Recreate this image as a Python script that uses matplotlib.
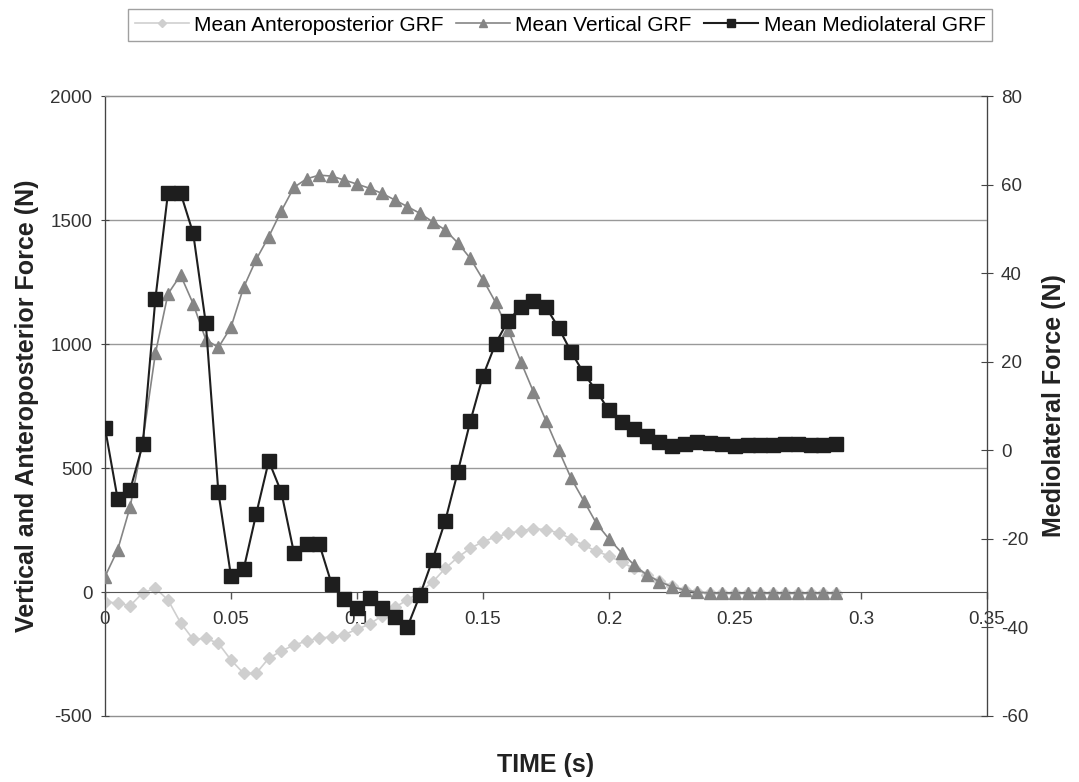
import matplotlib
matplotlib.use("Agg")
import matplotlib.pyplot as plt
from matplotlib.ticker import MultipleLocator

plt.rcParams['font.family'] = ['Liberation Sans', 'DejaVu Sans']
plt.rcParams['axes.unicode_minus'] = False

# Time (s), sampled every 5 ms
time_s = [0.000, 0.005, 0.010, 0.015, 0.020, 0.025, 0.030, 0.035, 0.040, 0.045,
          0.050, 0.055, 0.060, 0.065, 0.070, 0.075, 0.080, 0.085, 0.090, 0.095,
          0.100, 0.105, 0.110, 0.115, 0.120, 0.125, 0.130, 0.135, 0.140, 0.145,
          0.150, 0.155, 0.160, 0.165, 0.170, 0.175, 0.180, 0.185, 0.190, 0.195,
          0.200, 0.205, 0.210, 0.215, 0.220, 0.225, 0.230, 0.235, 0.240, 0.245,
          0.250, 0.255, 0.260, 0.265, 0.270, 0.275, 0.280, 0.285, 0.290]

# Mean anteroposterior GRF (N)
ap_grf = [-39, -45, -55, -3, 15, -32, -124, -191, -187,
          -207, -274, -328, -328, -267, -238, -214, -198, -185, -182,
          -172, -150, -130, -95, -62, -32, 0, 40, 95, 140,
          176, 203, 222, 236, 247, 255, 252, 238, 215, 188,
          165, 145, 120, 95, 70, 45, 25, 10, 0, -3,
          -3, -3, -3, -3, -3, -3, -3, -3, -3, -3]

# Mean vertical GRF (N)
vert_grf = [62, 169, 344, 610, 962, 1202, 1278, 1162, 1018,
            986, 1068, 1228, 1341, 1433, 1537, 1632, 1666, 1681, 1677,
            1661, 1645, 1628, 1607, 1581, 1554, 1527, 1493, 1460, 1408,
            1345, 1260, 1168, 1056, 929, 808, 691, 573, 458, 368,
            277, 214, 159, 109, 69, 42, 21, 8, -1, -4,
            -5, -5, -5, -5, -5, -5, -5, -5, -5, -5]

# Mean mediolateral GRF (N)
ml_grf = [5.1, -10.9, -8.9, 1.4, 34.2, 58.1, 58.1, 49.0, 28.7,
          -9.5, -28.4, -26.9, -14.4, -2.4, -9.5, -23.2, -21.1, -21.1, -30.3,
          -33.5, -35.5, -33.3, -35.5, -37.6, -39.9, -32.7, -24.7, -16.0, -4.9,
          6.6, 16.8, 24.1, 29.3, 32.3, 33.7, 32.3, 27.7, 22.2, 17.4,
          13.4, 9.0, 6.3, 4.9, 3.2, 1.9, 0.9, 1.5, 1.9, 1.7,
          1.4, 0.9, 1.1, 1.3, 1.3, 1.4, 1.5, 1.3, 1.3, 1.5]

fig = plt.figure(figsize=(10.79, 7.82), dpi=100)
ax = fig.add_axes([0.0973, 0.0844, 0.8174, 0.7928])
ax2 = ax.twinx()

# Plot area frame and gridlines
ax.patch.set_edgecolor('#909090')
ax.patch.set_linewidth(1.0)
for y in [500, 1000, 1500]:
    ax.axhline(y, color='#999999', linewidth=1.0, zorder=0)

l1, = ax.plot(time_s, ap_grf, color='#cfcfcf', linewidth=1.2, marker='D',
              markersize=6.5, label='Mean Anteroposterior GRF', zorder=2)
l2, = ax.plot(time_s, vert_grf, color='#858585', linewidth=1.2, marker='^',
              markersize=9, label='Mean Vertical GRF', zorder=3)
l3, = ax2.plot(time_s, ml_grf, color='#1e1e1e', linewidth=1.5, marker='s',
               markersize=9.5, label='Mean Mediolateral GRF', zorder=4)

ax.set_xlim(0, 0.35)
ax.set_ylim(-500, 2000)
ax2.set_ylim(-60, 80)
ax.xaxis.set_major_locator(MultipleLocator(0.05))
ax.yaxis.set_major_locator(MultipleLocator(500))
ax2.yaxis.set_major_locator(MultipleLocator(20))
ax.xaxis.set_major_formatter(lambda v, p: '0' if abs(v) < 1e-9 else '{:g}'.format(round(v, 2)))

# Excel-like axis at y = 0
ax.spines['bottom'].set_position(('data', 0))
ax.spines['bottom'].set_color('#555555')
ax.spines['top'].set_color('#909090')
ax.spines['left'].set_color('#444444')
for s in ['top', 'bottom', 'left', 'right']:
    ax2.spines[s].set_visible(False)
ax2.spines['right'].set_visible(True)
ax2.spines['right'].set_color('#444444')
ax.spines['right'].set_visible(False)

ax.tick_params(axis='x', direction='out', length=5, width=1, colors='#555555',
               labelcolor='#333333', labelsize=13.5, pad=9)
ax.tick_params(axis='y', direction='inout', length=6, colors='#444444',
               labelcolor='#333333', labelsize=13.5, pad=6)
ax2.tick_params(axis='y', direction='inout', length=8, colors='#444444',
                labelcolor='#333333', labelsize=13.5, pad=6)

ax.set_xlabel('TIME (s)', fontsize=18, fontweight='bold', color='#222222')
ax.xaxis.set_label_coords(0.5, -0.06)
ax.set_ylabel('Vertical and Anteroposterior Force (N)', fontsize=18,
              fontweight='bold', color='#222222', labelpad=8)
ax2.set_ylabel('Mediolateral Force (N)', fontsize=18, fontweight='bold',
               color='#222222', labelpad=10)

leg = fig.legend(handles=[l1, l2, l3], loc='center', bbox_to_anchor=(0.519, 0.968),
                 ncol=3, fontsize=15, frameon=True, fancybox=False,
                 handlelength=2.6, columnspacing=0.6, handletextpad=0.25,
                 borderpad=0.3, markerscale=0.65)
leg.get_frame().set_edgecolor('#888888')
leg.get_frame().set_linewidth(1.0)

plt.savefig('out.png', dpi=100)
